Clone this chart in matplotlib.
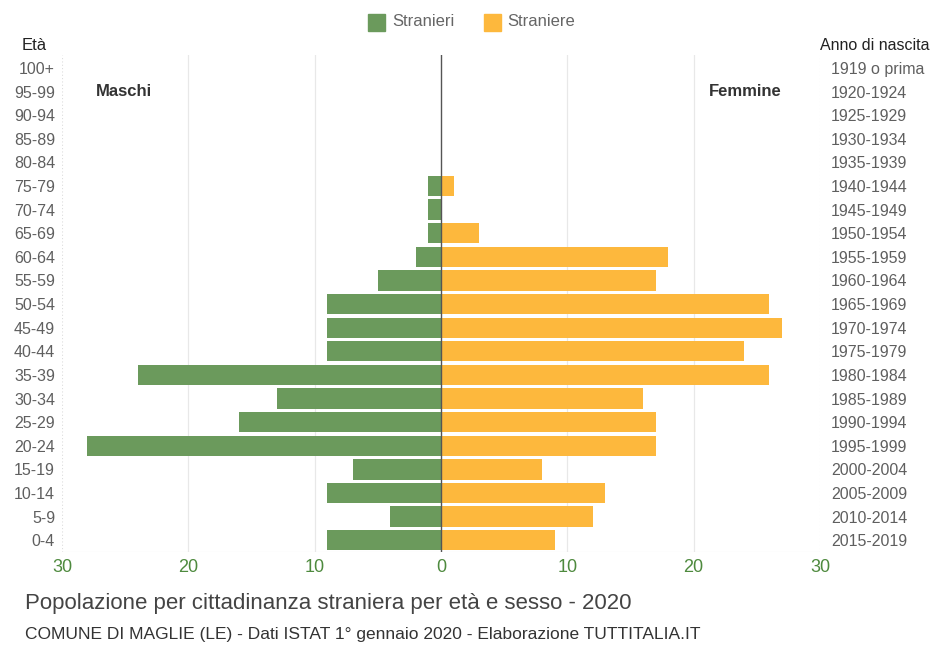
import matplotlib
matplotlib.use("Agg")
import matplotlib.pyplot as plt
from matplotlib.patches import Rectangle

plt.rcParams["font.family"] = ["Liberation Sans", "DejaVu Sans"]

age_groups = ["0-4", "5-9", "10-14", "15-19", "20-24", "25-29", "30-34", "35-39",
              "40-44", "45-49", "50-54", "55-59", "60-64", "65-69", "70-74",
              "75-79", "80-84", "85-89", "90-94", "95-99", "100+"]
birth_years = ["2015-2019", "2010-2014", "2005-2009", "2000-2004", "1995-1999",
               "1990-1994", "1985-1989", "1980-1984", "1975-1979", "1970-1974",
               "1965-1969", "1960-1964", "1955-1959", "1950-1954", "1945-1949",
               "1940-1944", "1935-1939", "1930-1934", "1925-1929", "1920-1924",
               "1919 o prima"]
males = [9, 4, 9, 7, 28, 16, 13, 24, 9, 9, 9, 5, 2, 1, 1, 1, 0, 0, 0, 0, 0]
females = [9, 12, 13, 8, 17, 17, 16, 26, 24, 27, 26, 17, 18, 3, 0, 1, 0, 0, 0, 0, 0]
x_ticks = [-30, -20, -10, 0, 10, 20, 30]

green = "#6b9a5c"
orange = "#fdb83d"
tick_grey = "#5f5f5f"

fig = plt.figure(figsize=(9.35, 6.46), dpi=100)
ax = fig.add_axes([0.0663, 0.1455, 0.8107, 0.7695])

y = list(range(len(age_groups)))
ax.barh(y, [-m for m in males], height=0.86, color=green, zorder=2)
ax.barh(y, females, height=0.86, color=orange, zorder=2)

ax.set_xlim(-30, 30)
ax.set_ylim(-0.5, 20.55)
for s in ax.spines.values():
    s.set_visible(False)
for xv in [-20, -10, 10, 20]:
    ax.axvline(xv, color="#e8e8e8", lw=0.9, zorder=0)
ax.axvline(-30, color="#dddddd", lw=0.8, ls=(0, (1, 2)), zorder=0)
ax.axvline(30, color="#dddddd", lw=0.8, ls=(0, (1, 2)), zorder=0)
ax.axhline(-0.5, color="#dddddd", lw=0.8, zorder=0)
ax.axvline(0, color="#555555", lw=1.0, zorder=3)

ax.set_xticks(x_ticks)
ax.set_xticklabels([str(abs(v)) for v in x_ticks], color="#4e8a3e", fontsize=13)
ax.tick_params(axis="x", length=0, pad=5)
ax.set_yticks(y)
ax.set_yticklabels(age_groups, fontsize=11.5, color=tick_grey)
ax.tick_params(axis="y", length=0, pad=5)

ax2 = ax.twinx()
ax2.set_ylim(ax.get_ylim())
ax2.set_yticks(y)
ax2.set_yticklabels(birth_years, fontsize=11.5, color=tick_grey)
ax2.tick_params(axis="y", length=0, pad=8)
for s in ax2.spines.values():
    s.set_visible(False)

ax.text(-27.3, 19, "Maschi", fontsize=12, fontweight="bold", color="#333333",
        va="center", ha="left")
ax.text(27.0, 19, "Femmine", fontsize=12, fontweight="bold", color="#333333",
        va="center", ha="right")

fig.text(22 / 935, 1 - 46 / 646, "Età", fontsize=12, color="#222222",
         ha="left", va="center")
fig.text(930 / 935, 1 - 46 / 646, "Anno di nascita", fontsize=11.5,
         color="#222222", ha="right", va="center")

# legend
fig.patches.append(Rectangle((368 / 935, 1 - 31 / 646), 17 / 935, 17 / 646,
                             transform=fig.transFigure, color=green))
fig.text(392 / 935, 1 - 22 / 646, "Stranieri", fontsize=12, color="#666666",
         ha="left", va="center")
fig.patches.append(Rectangle((484 / 935, 1 - 31 / 646), 17 / 935, 17 / 646,
                             transform=fig.transFigure, color=orange))
fig.text(507 / 935, 1 - 22 / 646, "Straniere", fontsize=12, color="#666666",
         ha="left", va="center")

fig.text(25 / 935, 1 - 604 / 646,
         "Popolazione per cittadinanza straniera per età e sesso - 2020",
         fontsize=16, color="#444444", ha="left", va="center")
fig.text(25 / 935, 1 - 634 / 646,
         "COMUNE DI MAGLIE (LE) - Dati ISTAT 1° gennaio 2020 - Elaborazione TUTTITALIA.IT",
         fontsize=12.5, color="#333333", ha="left", va="center")

fig.savefig("out.png", dpi=100)
